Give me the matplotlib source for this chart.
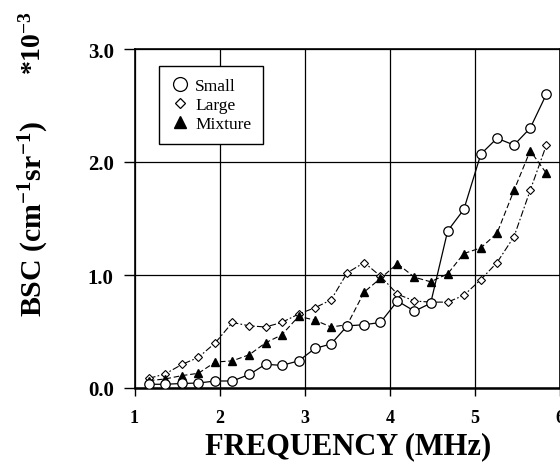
import matplotlib
matplotlib.use("Agg")
import matplotlib.pyplot as plt
from matplotlib.lines import Line2D

# ---- data ----
freq = [1.17, 1.36, 1.56, 1.75, 1.95, 2.15, 2.35, 2.54, 2.73, 2.93, 3.12, 3.31, 3.50,
        3.70, 3.89, 4.09, 4.29, 4.48, 4.68, 4.87, 5.07, 5.26, 5.46, 5.65, 5.84]
small = [0.033, 0.033, 0.040, 0.044, 0.062, 0.062, 0.12, 0.21, 0.20, 0.24, 0.35, 0.39, 0.55,
         0.56, 0.58, 0.77, 0.68, 0.75, 1.39, 1.58, 2.07, 2.21, 2.15, 2.30, 2.60]
large = [0.086, 0.124, 0.21, 0.27, 0.40, 0.58, 0.55, 0.54, 0.58, 0.655, 0.71, 0.78, 1.02,
         1.11, 0.99, 0.83, 0.77, 0.76, 0.76, 0.82, 0.96, 1.11, 1.34, 1.75, 2.15]
mixture = [0.065, 0.08, 0.11, 0.13, 0.23, 0.24, 0.295, 0.40, 0.47, 0.635, 0.60, 0.54, 0.56,
           0.85, 0.97, 1.10, 0.98, 0.94, 1.01, 1.19, 1.24, 1.37, 1.75, 2.10, 1.90]
x_ticks = [1, 2, 3, 4, 5, 6]
x_labels = ["1", "2", "3", "4", "5", "6"]
y_ticks = [0.0, 1.0, 2.0, 3.0]
y_labels = ["0.0", "1.0", "2.0", "3.0"]
series_names = ["Small", "Large", "Mixture"]

SERIF = ["Liberation Serif", "DejaVu Serif"]
plt.rcParams['font.family'] = SERIF
plt.rcParams['mathtext.fontset'] = 'custom'
plt.rcParams['mathtext.rm'] = 'Liberation Serif'
plt.rcParams['mathtext.bf'] = 'Liberation Serif:bold'
plt.rcParams['mathtext.default'] = 'regular'

W, H = 560, 464
fig = plt.figure(figsize=(W / 100, H / 100), dpi=100)
left, right, top, bottom = 134.5, 560.0, 50.0, 389.0
ax = fig.add_axes([left / W, 1 - bottom / H, (right - left) / W, (bottom - top) / H])

ax.plot(freq, small, color="black", lw=0.9, ls="-", marker="o", ms=6.8,
        mfc="white", mec="black", mew=0.9, zorder=4)
ax.plot(freq, large, color="black", lw=0.8, ls=(0, (6, 2, 1.5, 2)), marker="D", ms=3.6,
        mfc="white", mec="black", mew=0.8, zorder=3)
ax.plot(freq, mixture, color="black", lw=0.8, ls=(0, (5, 2.5)), marker="^", ms=5.5,
        mfc="black", mec="black", zorder=3)

ax.set_xlim(1, 6)
ax.set_ylim(0, 3)
ax.set_xticks(x_ticks)
ax.set_xticklabels(x_labels)
ax.set_yticks(y_ticks)
ax.set_yticklabels(y_labels)
ax.grid(True, color="black", lw=0.9)
ax.set_axisbelow(True)
for s in ax.spines.values():
    s.set_linewidth(1.2)
ax.spines["bottom"].set_linewidth(1.8)
ax.tick_params(axis="y", direction="out", length=8, width=1, pad=7, labelsize=15)
ax.tick_params(axis="x", direction="out", length=6, width=1, pad=9, labelsize=13)
for lab in ax.get_xticklabels() + ax.get_yticklabels():
    lab.set_fontweight("bold")

handles = [
    Line2D([], [], ls="none", marker="o", ms=10, mfc="white", mec="black", mew=0.9),
    Line2D([], [], ls="none", marker="D", ms=5.5, mfc="white", mec="black", mew=0.9),
    Line2D([], [], ls="none", marker="^", ms=8.5, mfc="black", mec="black"),
]
leg = ax.legend(handles, series_names, loc="upper left", bbox_to_anchor=(0.057, 0.95),
                borderaxespad=0, fancybox=False, framealpha=1, edgecolor="black",
                prop={"family": SERIF, "size": 12.5}, handlelength=1.0,
                handletextpad=0.4, labelspacing=0.15, borderpad=0.7)
leg.get_frame().set_linewidth(1.0)

fig.text(348 / W, 1 - 447 / H, "FREQUENCY (MHz)", ha="center", va="center",
         fontsize=22, fontweight="bold")
fig.text(34 / W, 1 - 219 / H, r"BSC (cm$^{-1}$sr$^{-1}$)", ha="center",
         va="center", rotation=90, fontsize=21.5, fontweight="bold")
fig.text(33 / W, 1 - 43 / H, r"*10$^{-3}$", ha="center", va="center",
         rotation=90, fontsize=20, fontweight="bold")

fig.savefig("out.png", dpi=100)
